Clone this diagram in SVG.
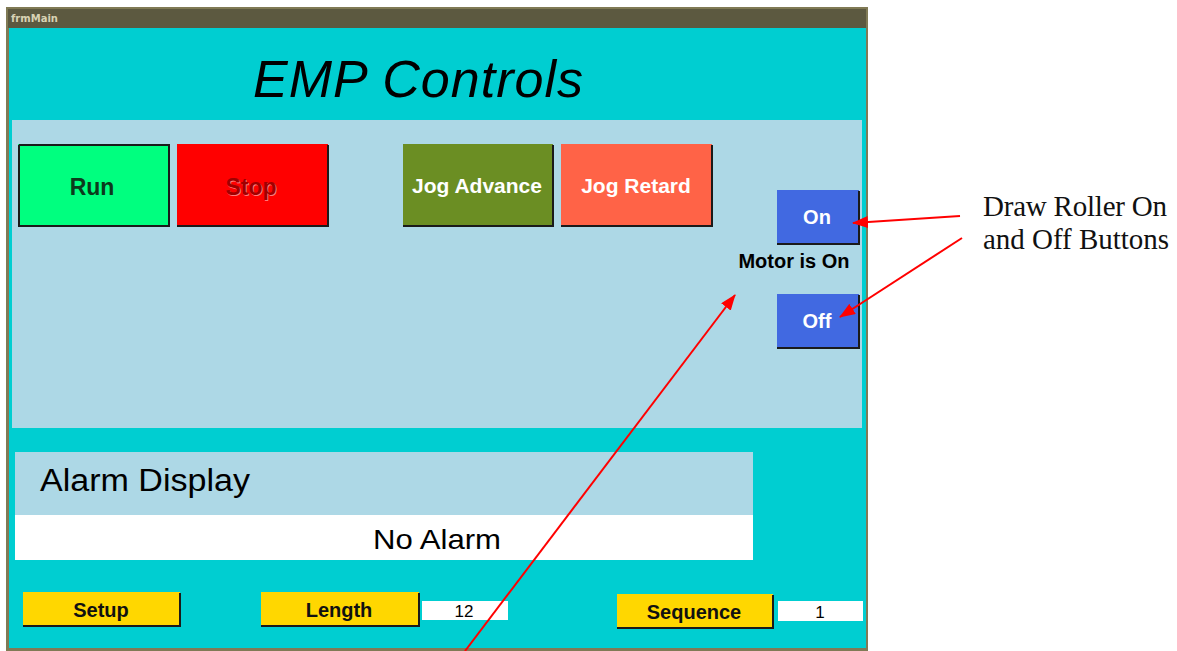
<svg xmlns="http://www.w3.org/2000/svg" width="1177" height="651" viewBox="0 0 1177 651">
<style>
.sh{fill:none;stroke:#1a1a1a;stroke-width:2}
.lbl{font-family:"Liberation Sans",Arial,sans-serif;font-weight:bold;text-anchor:middle}
.val{font-family:"Liberation Sans",Arial,sans-serif;font-size:17px;text-anchor:middle;fill:#000}
.note{font-family:"Liberation Serif",serif;font-size:29px;fill:#111}
.arr{stroke:#ff0000;stroke-width:2;fill:none;marker-end:url(#ah)}
</style>
<defs>
<marker id="ah" viewBox="0 0 16 12" refX="15" refY="6" markerWidth="16" markerHeight="12" markerUnits="userSpaceOnUse" orient="auto">
<path d="M0,0 L16,6 L0,12 z" fill="#ff0000"/>
</marker>
</defs>
<rect width="1177" height="651" fill="#ffffff"/>
<g id="window">
<rect x="6" y="7" width="862" height="646" fill="#807a55"/>
<rect x="8" y="9" width="858" height="19" fill="#5c5940"/>
<text x="11" y="22" font-family="DejaVu Sans,sans-serif" font-weight="bold" font-size="10" fill="#d8d3b4">frmMain</text>
<rect x="9" y="28" width="857" height="620" fill="#00ced1"/>
<text x="253" y="97" font-family="Liberation Sans,sans-serif" font-style="italic" font-size="52" textLength="330" fill="#000">EMP Controls</text>
<rect x="12" y="120" width="850" height="308" fill="#add8e6"/>
</g>
<g id="run">
<rect x="18" y="144" width="151" height="82" fill="#00ff7f"/>
<polyline class="sh" points="19,145 19,226 169,226 169,145 19,145"/>
<text class="lbl" x="92" y="195" font-size="23" fill="#0c3a1c">Run</text>
</g>
<g id="stop">
<rect x="177" y="144" width="151" height="82" fill="#ff0000"/>
<polyline class="sh" points="177,226 328,226 328,145"/>
<text class="lbl" x="252" y="196" font-size="23" fill="#ff7a7a">Stop</text>
<text class="lbl" x="251" y="195" font-size="23" fill="#a00000">Stop</text>
</g>
<g id="jogadvance">
<rect x="403" y="144" width="150" height="82" fill="#6b8e23"/>
<polyline class="sh" points="403,226 553,226 553,145"/>
<text class="lbl" x="477" y="193" font-size="21" fill="#fff">Jog Advance</text>
</g>
<g id="jogretard">
<rect x="561" y="144" width="151" height="82" fill="#ff6347"/>
<polyline class="sh" points="561,226 712,226 712,145"/>
<text class="lbl" x="636" y="193" font-size="21" fill="#fff">Jog Retard</text>
</g>
<g id="on">
<rect x="777" y="190" width="82" height="54" fill="#4169e1"/>
<polyline class="sh" points="777,244 859,244 859,191"/>
<text class="lbl" x="817" y="224" font-size="20" fill="#fff">On</text>
</g>
<g id="motorstatus">
<text class="lbl" x="794" y="268" font-size="20" fill="#000">Motor is On</text>
</g>
<g id="off">
<rect x="777" y="294" width="82" height="54" fill="#4169e1"/>
<polyline class="sh" points="777,348 859,348 859,295"/>
<text class="lbl" x="817" y="328" font-size="20" fill="#fff">Off</text>
</g>
<g id="alarm">
<rect x="15" y="452" width="738" height="63" fill="#add8e6"/>
<rect x="15" y="515" width="738" height="45" fill="#ffffff"/>
<text x="40" y="491" font-family="Liberation Sans,sans-serif" font-size="31" fill="#000" textLength="210" lengthAdjust="spacingAndGlyphs">Alarm Display</text>
<text x="437" y="549" font-family="Liberation Sans,sans-serif" font-size="28" fill="#000" text-anchor="middle" textLength="128" lengthAdjust="spacingAndGlyphs">No Alarm</text>
</g>
<g id="setup">
<rect x="23" y="592" width="157" height="35" fill="#ffd700"/>
<polyline class="sh" points="23,626 180,626 180,593"/>
<text class="lbl" x="101" y="617" font-size="20" fill="#111">Setup</text>
</g>
<g id="length">
<rect x="261" y="592" width="158" height="35" fill="#ffd700"/>
<polyline class="sh" points="261,626 419,626 419,593"/>
<text class="lbl" x="339" y="617" font-size="20" fill="#111">Length</text>
</g>
<g id="lengthvalue">
<rect x="422" y="601" width="86" height="19" fill="#ffffff"/>
<text class="val" x="464" y="617">12</text>
</g>
<g id="sequence">
<rect x="617" y="594" width="156" height="35" fill="#ffd700"/>
<polyline class="sh" points="617,628 773,628 773,595"/>
<text class="lbl" x="694" y="619" font-size="20" fill="#111">Sequence</text>
</g>
<g id="sequencevalue">
<rect x="778" y="601" width="85" height="20" fill="#ffffff"/>
<text class="val" x="820" y="618">1</text>
</g>
<g id="annotation">
<text class="note" x="983" y="216" textLength="184">Draw Roller On</text>
<text class="note" x="983" y="249" textLength="186">and Off Buttons</text>
</g>
<g id="connectors">
<line class="arr" x1="960" y1="216" x2="853" y2="223"/>
<line class="arr" x1="962" y1="238" x2="840" y2="317"/>
<line class="arr" x1="465" y1="651" x2="735" y2="295"/>
</g>
</svg>
